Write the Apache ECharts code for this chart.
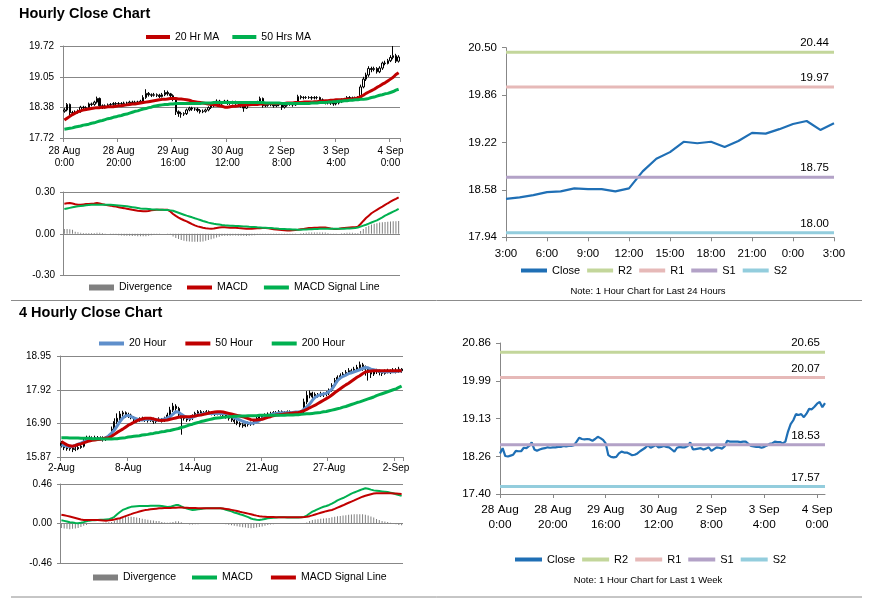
<!DOCTYPE html>
<html><head><meta charset="utf-8">
<script src="https://cdn.jsdelivr.net/npm/echarts@6/dist/echarts.min.js"></script>
<style>html,body{margin:0;padding:0;background:#fff}#c{width:873px;height:601px}</style>
</head><body><div id="c"></div>
<script>
// ---------- Hourly (28 Aug 0:00 .. 4 Sep 3:00) ----------
const labelsH = ['28 Aug\n0:00','28 Aug\n20:00','29 Aug\n16:00','30 Aug\n12:00','2 Sep\n8:00','3 Sep\n4:00','4 Sep\n0:00'];
const closeH = [18.33,18.45,18.27,18.26,18.28,18.30,18.39,18.38,18.38,18.46,
 18.45,18.50,18.58,18.42,18.39,18.42,18.44,18.45,18.47,18.46,
 18.47,18.47,18.48,18.48,18.50,18.49,18.50,18.50,18.52,18.60,
 18.69,18.66,18.65,18.66,18.65,18.62,18.66,18.71,18.68,18.64,
 18.56,18.29,18.25,18.24,18.25,18.33,18.37,18.35,18.35,18.32,
 18.29,18.30,18.33,18.38,18.42,18.46,18.52,18.46,18.49,18.52,
 18.47,18.48,18.50,18.48,18.47,18.42,18.37,18.46,18.48,18.47,
 18.47,18.50,18.58,18.42,18.43,18.44,18.45,18.42,18.44,18.47,
 18.39,18.43,18.47,18.46,18.44,18.49,18.62,18.60,18.60,18.60,
 18.60,18.59,18.60,18.60,18.55,18.50,18.49,18.48,18.48,18.46,
 18.48,18.51,18.55,18.56,18.60,18.59,18.59,18.56,18.60,18.83,
 19.00,19.09,19.23,19.21,19.23,19.16,19.24,19.35,19.34,19.40,
 19.47,19.51,19.39,19.48];
const openH = [18.30,18.33,18.45,18.27,18.26,18.28,18.30,18.39,18.38,18.38,
 18.46,18.45,18.50,18.58,18.42,18.39,18.42,18.44,18.45,18.47,
 18.46,18.47,18.47,18.48,18.48,18.50,18.49,18.50,18.50,18.52,
 18.60,18.69,18.66,18.65,18.66,18.65,18.62,18.66,18.71,18.68,
 18.64,18.56,18.29,18.25,18.24,18.25,18.33,18.37,18.35,18.35,
 18.32,18.29,18.30,18.33,18.38,18.42,18.46,18.52,18.46,18.49,
 18.52,18.47,18.48,18.50,18.48,18.47,18.42,18.37,18.46,18.48,
 18.47,18.47,18.50,18.58,18.42,18.43,18.44,18.45,18.42,18.44,
 18.47,18.39,18.43,18.47,18.46,18.44,18.49,18.62,18.60,18.60,
 18.60,18.60,18.59,18.60,18.60,18.55,18.50,18.49,18.48,18.48,
 18.46,18.48,18.51,18.55,18.56,18.60,18.59,18.59,18.56,18.60,
 18.83,19.00,19.09,19.23,19.21,19.23,19.16,19.24,19.35,19.34,
 19.40,19.47,19.51,19.39];
const highH = [18.37,18.48,18.47,18.31,18.32,18.34,18.42,18.42,18.41,18.49,
 18.49,18.53,18.62,18.60,18.45,18.45,18.47,18.48,18.50,18.50,
 18.50,18.50,18.51,18.51,18.53,18.53,18.53,18.53,18.55,18.65,
 18.78,18.72,18.69,18.70,18.69,18.68,18.70,18.76,18.75,18.70,
 18.67,18.58,18.32,18.29,18.28,18.36,18.40,18.40,18.38,18.38,
 18.35,18.34,18.36,18.41,18.45,18.50,18.56,18.55,18.52,18.55,
 18.55,18.51,18.53,18.53,18.51,18.50,18.45,18.49,18.51,18.51,
 18.50,18.53,18.62,18.60,18.46,18.47,18.48,18.48,18.47,18.50,
 18.50,18.46,18.50,18.50,18.49,18.52,18.66,18.65,18.63,18.63,
 18.63,18.63,18.63,18.63,18.62,18.58,18.53,18.52,18.51,18.51,
 18.52,18.54,18.58,18.59,18.63,18.63,18.62,18.62,18.63,18.88,
 19.05,19.14,19.28,19.27,19.27,19.26,19.28,19.38,19.40,19.44,
 19.52,19.72,19.55,19.52];
const lowH = [18.27,18.30,18.22,18.22,18.23,18.25,18.27,18.35,18.34,18.35,
 18.41,18.42,18.47,18.40,18.35,18.36,18.39,18.41,18.42,18.43,
 18.43,18.44,18.45,18.45,18.45,18.46,18.46,18.47,18.47,18.49,
 18.57,18.62,18.61,18.62,18.61,18.59,18.60,18.63,18.64,18.60,
 18.52,18.22,18.18,18.16,18.20,18.22,18.30,18.31,18.31,18.28,
 18.25,18.26,18.27,18.30,18.35,18.39,18.43,18.42,18.44,18.46,
 18.44,18.44,18.45,18.44,18.43,18.38,18.29,18.35,18.43,18.43,
 18.43,18.44,18.47,18.38,18.39,18.40,18.41,18.38,18.39,18.41,
 18.33,18.36,18.40,18.42,18.40,18.42,18.46,18.56,18.56,18.57,
 18.57,18.55,18.56,18.56,18.52,18.47,18.45,18.45,18.44,18.42,
 18.43,18.45,18.48,18.52,18.54,18.55,18.56,18.53,18.53,18.56,
 18.80,18.96,19.05,19.15,19.17,19.12,19.13,19.20,19.30,19.32,
 19.37,19.43,19.35,19.36];
const ma20H = [18.11,18.15,18.19,18.23,18.26,18.29,18.31,18.33,18.34,18.35,
 18.36,18.37,18.38,18.38,18.39,18.39,18.40,18.40,18.40,18.41,
 18.42,18.42,18.43,18.44,18.45,18.46,18.46,18.47,18.48,18.49,
 18.50,18.51,18.52,18.53,18.54,18.55,18.56,18.56,18.57,18.58,
 18.58,18.58,18.57,18.57,18.56,18.55,18.54,18.52,18.51,18.50,
 18.49,18.48,18.47,18.46,18.45,18.44,18.43,18.42,18.41,18.39,
 18.39,18.40,18.41,18.41,18.42,18.43,18.43,18.44,18.44,18.45,
 18.45,18.45,18.46,18.46,18.46,18.47,18.47,18.47,18.47,18.47,
 18.47,18.47,18.48,18.48,18.48,18.49,18.49,18.49,18.50,18.50,
 18.50,18.50,18.51,18.51,18.52,18.52,18.53,18.53,18.54,18.54,
 18.55,18.55,18.55,18.56,18.56,18.56,18.57,18.58,18.59,18.62,
 18.65,18.69,18.72,18.75,18.78,18.82,18.85,18.89,18.92,18.96,
 19.00,19.04,19.10,19.14];
const ma50H = [17.91,17.92,17.93,17.94,17.96,17.97,17.98,18.00,18.01,18.02,
 18.04,18.05,18.07,18.09,18.10,18.12,18.14,18.15,18.17,18.18,
 18.20,18.21,18.23,18.24,18.26,18.28,18.30,18.31,18.33,18.35,
 18.36,18.38,18.39,18.41,18.42,18.43,18.44,18.45,18.45,18.46,
 18.46,18.47,18.47,18.47,18.47,18.47,18.47,18.47,18.47,18.47,
 18.47,18.48,18.48,18.48,18.48,18.49,18.49,18.49,18.49,18.49,
 18.49,18.49,18.49,18.49,18.49,18.49,18.49,18.49,18.49,18.49,
 18.49,18.49,18.49,18.49,18.48,18.48,18.48,18.48,18.48,18.48,
 18.47,18.47,18.47,18.47,18.47,18.47,18.47,18.47,18.47,18.47,
 18.47,18.48,18.48,18.48,18.49,18.49,18.49,18.50,18.50,18.51,
 18.51,18.52,18.52,18.53,18.53,18.54,18.54,18.55,18.55,18.56,
 18.56,18.57,18.58,18.60,18.61,18.63,18.65,18.66,18.68,18.69,
 18.71,18.73,18.76,18.78];
const macdH = [.216,.219,.221,.217,.212,.209,.209,.211,.213,.214,
 .216,.218,.221,.218,.213,.208,.204,.202,.198,.195,
 .191,.187,.184,.180,.176,.172,.169,.166,.164,.162,
 .161,.164,.168,.171,.173,.173,.173,.173,.172,.160,
 .142,.128,.116,.106,.097,.089,.079,.069,.060,.053,
 .048,.043,.039,.037,.036,.038,.042,.045,.046,.046,
 .045,.044,.045,.043,.041,.040,.038,.036,.036,.036,
 .037,.039,.040,.041,.041,.039,.036,.033,.030,.029,
 .027,.025,.024,.024,.025,.027,.029,.032,.035,.038,
 .041,.042,.043,.044,.045,.045,.045,.042,.038,.035,
 .034,.036,.039,.042,.044,.045,.046,.047,.050,.070,
 .092,.113,.130,.147,.160,.172,.184,.195,.207,.219,
 .230,.241,.251,.262];
const signalH = [.178,.182,.186,.190,.194,.197,.200,.202,.204,.206,
 .208,.209,.209,.209,.209,.209,.209,.209,.207,.205,
 .203,.201,.199,.197,.194,.191,.188,.185,.182,.180,
 .179,.178,.176,.175,.174,.173,.172,.171,.170,.168,
 .165,.158,.151,.144,.137,.130,.124,.118,.111,.105,
 .099,.092,.086,.080,.076,.072,.069,.066,.063,.061,
 .060,.058,.057,.056,.055,.054,.053,.052,.050,.049,
 .048,.046,.045,.044,.043,.042,.041,.039,.038,.036,
 .035,.034,.033,.032,.031,.030,.029,.029,.030,.031,
 .032,.033,.034,.035,.036,.036,.036,.036,.036,.036,
 .036,.036,.036,.036,.037,.038,.039,.041,.045,.051,
 .058,.065,.073,.081,.089,.096,.107,.118,.130,.140,
 .149,.159,.168,.178];
const divH = [.035,.035,.033,.028,.015,.010,.008,.006,.005,.005,
 .005,.005,.008,.008,.005,.002,.000,-.004,-.006,-.007,
 -.010,-.012,-.014,-.015,-.015,-.016,-.017,-.018,-.018,-.018,
 -.018,-.015,-.010,-.006,-.003,-.001,.000,.000,-.002,-.005,
 -.020,-.030,-.038,-.045,-.050,-.053,-.055,-.057,-.058,-.058,
 -.057,-.055,-.050,-.045,-.040,-.034,-.027,-.021,-.017,-.015,
 -.015,-.014,-.012,-.013,-.014,-.014,-.015,-.016,-.014,-.013,
 -.011,-.007,-.005,-.003,-.002,-.003,-.005,-.006,-.008,-.007,
 -.008,-.009,-.009,-.008,-.006,-.003,.000,.003,.005,.007,
 .009,.009,.009,.009,.009,.009,.009,.006,.002,-.001,
 -.002,.000,.003,.006,.007,.008,.008,.006,.005,.019,
 .034,.048,.057,.066,.071,.076,.080,.082,.084,.086,
 .088,.089,.090,.091];

// ---------- Last 24 hours ----------
const labels24 = ['3:00','6:00','9:00','12:00','15:00','18:00','21:00','0:00','3:00'];
const close24 = [18.46,18.48,18.51,18.55,18.56,18.60,18.59,18.59,18.56,18.60,18.83,19.00,19.09,
 19.23,19.21,19.23,19.16,19.24,19.35,19.34,19.40,19.47,19.51,19.39,19.48];
const levelNames = ['R2','R1','S1','S2'];
const levels24 = [20.44, 19.97, 18.75, 18.00];
const levelsW = [20.65, 20.07, 18.53, 17.57];

// ---------- 4 hourly ----------
const labels4 = ['2-Aug','8-Aug','14-Aug','21-Aug','27-Aug','2-Sep'];
const close4 = [16.22,16.15,16.12,16.14,16.10,16.12,16.16,16.20,16.38,16.45,
 16.42,16.44,16.46,16.43,16.45,16.40,16.44,16.50,16.72,16.95,
 17.05,17.18,17.22,17.12,17.15,17.08,17.00,16.98,17.02,17.05,
 17.00,16.98,17.03,16.95,17.00,17.02,16.98,17.05,17.15,17.30,
 17.42,17.35,17.15,17.05,17.08,17.00,17.05,17.12,17.20,17.25,
 17.20,17.22,17.25,17.22,17.20,17.18,17.22,17.20,17.15,17.10,
 17.05,17.00,16.95,16.90,16.85,16.82,16.86,16.90,16.88,16.95,
 17.05,17.10,17.12,17.15,17.18,17.20,17.22,17.20,17.25,17.22,
 17.20,17.25,17.22,17.18,17.20,17.22,17.25,17.55,17.75,17.82,
 17.70,17.78,17.75,17.80,17.78,17.82,17.90,18.05,18.20,18.30,
 18.35,18.40,18.45,18.50,18.48,18.55,18.60,18.68,18.62,18.55,
 18.45,18.40,18.48,18.50,18.45,18.42,18.48,18.50,18.47,18.52,
 18.50,18.55,18.50];
const open4 = [16.30,16.22,16.15,16.12,16.14,16.10,16.12,16.16,16.20,16.38,
 16.45,16.42,16.44,16.46,16.43,16.45,16.40,16.44,16.50,16.72,
 16.95,17.05,17.18,17.22,17.12,17.15,17.08,17.00,16.98,17.02,
 17.05,17.00,16.98,17.03,16.95,17.00,17.02,16.98,17.05,17.15,
 17.30,17.42,17.35,17.15,17.05,17.08,17.00,17.05,17.12,17.20,
 17.25,17.20,17.22,17.25,17.22,17.20,17.18,17.22,17.20,17.15,
 17.10,17.05,17.00,16.95,16.90,16.85,16.82,16.86,16.90,16.88,
 16.95,17.05,17.10,17.12,17.15,17.18,17.20,17.22,17.20,17.25,
 17.22,17.20,17.25,17.22,17.18,17.20,17.22,17.25,17.55,17.75,
 17.82,17.70,17.78,17.75,17.80,17.78,17.82,17.90,18.05,18.20,
 18.30,18.35,18.40,18.45,18.50,18.48,18.55,18.60,18.68,18.62,
 18.55,18.45,18.40,18.48,18.50,18.45,18.42,18.48,18.50,18.47,
 18.52,18.50,18.55];
const high4 = [16.36,16.28,16.20,16.20,16.19,16.18,16.22,16.26,16.44,16.52,
 16.52,16.50,16.52,16.51,16.50,16.50,16.49,16.56,16.80,17.05,
 17.20,17.27,17.28,17.26,17.22,17.19,17.12,17.06,17.08,17.10,
 17.09,17.05,17.08,17.07,17.04,17.08,17.06,17.10,17.22,17.40,
 17.52,17.48,17.40,17.20,17.13,17.12,17.10,17.17,17.25,17.30,
 17.30,17.27,17.30,17.29,17.26,17.24,17.27,17.26,17.23,17.18,
 17.14,17.09,17.05,17.00,16.95,16.90,16.90,16.95,16.95,17.00,
 17.10,17.15,17.17,17.20,17.23,17.25,17.27,17.27,17.30,17.29,
 17.27,17.29,17.29,17.27,17.24,17.27,17.30,17.65,17.88,17.90,
 17.86,17.84,17.82,17.86,17.84,17.88,17.96,18.12,18.28,18.36,
 18.42,18.46,18.52,18.58,18.56,18.62,18.68,18.78,18.74,18.66,
 18.60,18.50,18.54,18.56,18.54,18.50,18.54,18.56,18.54,18.58,
 18.58,18.62,18.58];
const low4 = [16.16,16.08,16.06,16.06,16.02,16.05,16.08,16.12,16.16,16.32,
 16.36,16.38,16.40,16.37,16.38,16.34,16.36,16.40,16.46,16.66,
 16.88,16.98,17.10,17.06,17.06,17.02,16.94,16.92,16.94,16.98,
 16.94,16.92,16.94,16.88,16.90,16.95,16.92,16.94,17.00,17.10,
 17.24,17.28,17.08,16.55,16.98,16.94,16.96,17.00,17.06,17.14,
 17.12,17.14,17.16,17.16,17.14,17.12,17.14,17.13,17.08,17.04,
 16.98,16.94,16.88,16.84,16.78,16.76,16.78,16.80,16.82,16.84,
 16.90,17.00,17.04,17.06,17.09,17.12,17.15,17.14,17.15,17.16,
 17.13,17.15,17.16,17.12,17.13,17.15,17.16,17.20,17.48,17.66,
 17.62,17.64,17.68,17.70,17.70,17.72,17.76,17.86,18.00,18.14,
 18.24,18.30,18.34,18.40,18.40,18.44,18.50,18.55,18.50,18.35,
 18.20,18.28,18.34,18.40,18.36,18.34,18.38,18.42,18.40,18.44,
 18.42,18.44,18.44];
const ma20_4 = [16.24,16.22,16.20,16.18,16.19,16.22,16.26,16.29,16.33,16.37,
 16.40,16.41,16.41,16.41,16.41,16.43,16.46,16.52,16.60,16.69,
 16.82,16.95,17.06,17.12,17.14,17.10,17.06,17.03,17.00,17.00,
 17.01,17.02,17.02,17.01,17.00,17.00,17.01,17.03,17.06,17.10,
 17.18,17.25,17.24,17.17,17.12,17.08,17.05,17.08,17.12,17.15,
 17.17,17.19,17.20,17.20,17.20,17.20,17.20,17.20,17.20,17.20,
 17.17,17.12,17.07,17.03,17.00,16.96,16.93,16.91,16.90,16.91,
 16.93,16.98,17.04,17.08,17.12,17.15,17.18,17.20,17.21,17.21,
 17.22,17.22,17.22,17.23,17.24,17.24,17.25,17.33,17.40,17.48,
 17.60,17.69,17.74,17.77,17.79,17.81,17.87,17.94,18.07,18.20,
 18.28,18.33,18.37,18.41,18.44,18.47,18.50,18.53,18.57,18.60,
 18.59,18.55,18.53,18.51,18.49,18.47,18.47,18.47,18.47,18.47,
 18.48,18.49,18.49];
const ma50_4 = [16.34,16.29,16.24,16.21,16.20,16.22,16.25,16.27,16.30,16.33,
 16.36,16.38,16.39,16.40,16.41,16.43,16.45,16.46,16.50,16.56,
 16.62,16.67,16.72,16.78,16.84,16.88,16.93,16.97,17.01,17.03,
 17.05,17.05,17.05,17.03,17.01,16.99,16.98,16.99,17.00,17.02,
 17.04,17.06,17.08,17.10,17.10,17.10,17.10,17.11,17.12,17.14,
 17.15,17.17,17.19,17.21,17.23,17.24,17.25,17.25,17.24,17.22,
 17.20,17.18,17.16,17.14,17.12,17.10,17.07,17.04,17.01,17.00,
 17.00,17.01,17.02,17.05,17.08,17.10,17.13,17.15,17.16,17.17,
 17.18,17.19,17.20,17.21,17.22,17.23,17.25,17.28,17.32,17.37,
 17.41,17.45,17.50,17.55,17.60,17.65,17.70,17.76,17.83,17.89,
 17.95,18.01,18.07,18.12,18.18,18.24,18.30,18.35,18.41,18.46,
 18.48,18.49,18.50,18.50,18.50,18.50,18.50,18.50,18.50,18.50,
 18.50,18.50,18.50];
const ma200_4 = [16.46,16.46,16.46,16.45,16.45,16.45,16.45,16.44,16.44,16.44,
 16.44,16.43,16.43,16.43,16.43,16.42,16.42,16.42,16.42,16.43,
 16.43,16.44,16.45,16.46,16.48,16.49,16.50,16.51,16.52,16.54,
 16.55,16.56,16.58,16.59,16.61,16.62,16.64,16.65,16.67,16.68,
 16.70,16.72,16.74,16.77,16.79,16.82,16.85,16.87,16.90,16.92,
 16.95,16.97,16.99,17.01,17.03,17.05,17.06,17.07,17.08,17.09,
 17.10,17.10,17.11,17.11,17.12,17.12,17.12,17.13,17.13,17.13,
 17.13,17.14,17.14,17.14,17.14,17.14,17.14,17.14,17.14,17.14,
 17.14,17.15,17.15,17.15,17.16,17.16,17.17,17.18,17.19,17.19,
 17.20,17.21,17.22,17.23,17.25,17.26,17.28,17.30,17.32,17.34,
 17.36,17.39,17.41,17.44,17.47,17.50,17.53,17.55,17.58,17.61,
 17.64,17.67,17.70,17.74,17.77,17.80,17.83,17.86,17.89,17.92,
 17.95,17.99,18.03];
const macd4 = [.040,.032,.024,.016,.012,.008,.005,.010,.018,.027,
 .035,.038,.040,.042,.044,.046,.048,.050,.062,.080,
 .108,.135,.159,.172,.185,.195,.199,.202,.204,.205,
 .205,.206,.207,.208,.209,.209,.205,.200,.193,.195,
 .205,.215,.215,.200,.186,.176,.166,.159,.162,.166,
 .171,.176,.179,.179,.179,.179,.179,.179,.172,.162,
 .152,.142,.130,.120,.109,.100,.088,.075,.060,.050,
 .045,.043,.048,.055,.062,.066,.069,.071,.073,.074,
 .073,.072,.071,.070,.070,.070,.073,.078,.094,.118,
 .139,.153,.168,.183,.196,.205,.217,.232,.250,.270,
 .285,.297,.313,.330,.348,.362,.375,.388,.400,.410,
 .405,.395,.386,.382,.378,.374,.370,.366,.360,.352,
 .342,.332,.322];
const signal4 = [.103,.097,.090,.083,.075,.066,.057,.048,.043,.042,
 .042,.043,.043,.041,.039,.037,.035,.038,.043,.049,
 .056,.063,.075,.087,.099,.110,.122,.131,.140,.149,
 .157,.161,.166,.170,.174,.178,.180,.181,.182,.183,
 .184,.185,.186,.186,.185,.184,.183,.182,.181,.180,
 .179,.179,.179,.179,.179,.179,.179,.179,.176,.171,
 .166,.160,.154,.146,.138,.131,.124,.116,.108,.100,
 .093,.087,.082,.080,.078,.077,.076,.075,.074,.074,
 .074,.074,.074,.074,.074,.074,.074,.076,.080,.087,
 .096,.106,.116,.126,.136,.145,.152,.159,.171,.185,
 .199,.213,.228,.242,.256,.270,.285,.299,.313,.323,
 .333,.342,.349,.353,.353,.353,.353,.353,.353,.351,
 .349,.347,.345];
const div4 = [-.050,-.055,-.060,-.065,-.060,-.055,-.050,-.040,-.025,-.015,
 -.005,.000,.000,.005,.008,.010,.012,.015,.020,.030,
 .045,.060,.070,.078,.080,.080,.078,.072,.066,.058,
 .050,.045,.040,.036,.032,.030,.020,.012,.010,.012,
 .020,.028,.028,.015,.005,-.005,-.010,-.010,-.008,-.006,
 -.004,-.002,-.001,.000,.000,.000,.000,-.002,-.004,-.008,
 -.012,-.018,-.025,-.030,-.036,-.042,-.046,-.050,-.052,-.050,
 -.045,-.040,-.033,-.025,-.016,-.011,-.007,-.004,-.002,.000,
 -.001,-.002,-.003,-.004,-.004,-.004,-.001,.002,.014,.031,
 .043,.047,.052,.057,.060,.062,.066,.074,.080,.086,
 .090,.094,.098,.102,.106,.108,.110,.110,.108,.104,
 .096,.084,.070,.055,.042,.032,.025,.018,.010,.003,
 -.007,-.015,-.020];

// ---------- axis ticks ----------
const yTicksH = [17.72, 18.38, 19.05, 19.72];
const yTicks24 = [17.94, 18.58, 19.22, 19.86, 20.50];
const yTicks4 = [15.87, 16.90, 17.92, 18.95];
const yTicksW = [17.40, 18.26, 19.13, 19.99, 20.86];
const STEP_H = 20, STEP_24 = 3, STEP_4 = 24;

// ---------- styling ----------
const FONT = 'Liberation Sans, Arial, sans-serif';
const GC = '#878787';
const C = {red:'#c00000', green:'#00b050', blue4:'#5f8fcb', close:'#1f6fb5', div:'#808080',
  R2:'#c3d69b', R1:'#e6b9b8', S1:'#b3a2c7', S2:'#93cddd'};
const levelColors = [C.R2, C.R1, C.S1, C.S2];
const showName = {Divergence4:'Divergence', MACD4:'MACD', Signal4:'MACD Signal Line'};

const catH = closeH.map((_, i) => i);
const cat24 = close24.map((_, i) => i);
const cat4 = close4.map((_, i) => i);
const fmt2 = v => v.toFixed(2);

function xCat(gi, data, gap, step, labels, fs, lh, margin) {
  const show = !!labels;
  return {
    type: 'category', gridIndex: gi, data: data, boundaryGap: gap,
    axisLine: {show: show, lineStyle: {color: GC, width: 1}},
    axisTick: {show: show, length: 4, interval: (i) => i % step === 0, lineStyle: {color: GC}},
    axisLabel: {show: show, interval: (i) => i % step === 0,
      formatter: (v, i) => labels ? (labels[i / step] || '') : '',
      fontSize: fs, lineHeight: lh, margin: margin, color: '#000', fontFamily: FONT},
    splitLine: {show: false}
  };
}
function yVal(gi, ticks, fs, margin, grid) {
  return {
    type: 'value', gridIndex: gi, min: ticks[0], max: ticks[ticks.length - 1],
    axisLine: {show: true, lineStyle: {color: GC, width: 1}},
    axisTick: {show: true, length: grid ? 3 : 4, customValues: ticks, lineStyle: {color: GC}},
    axisLabel: {customValues: ticks, formatter: fmt2, fontSize: fs, margin: margin, color: '#000', fontFamily: FONT},
    splitLine: {show: grid, lineStyle: {color: GC, width: 1}}
  };
}
function yMacd(gi, lim) {
  return {
    type: 'value', gridIndex: gi, min: -lim, max: lim, interval: lim,
    axisLine: {show: true, lineStyle: {color: GC, width: 1}},
    axisTick: {show: true, length: 3, lineStyle: {color: GC}},
    axisLabel: {formatter: fmt2, fontSize: 10, margin: 8, color: '#000', fontFamily: FONT},
    splitLine: {show: true, lineStyle: {color: GC, width: 1}}
  };
}
function line(name, xi, data, color, width, z) {
  return {type: 'line', name: name, xAxisIndex: xi, yAxisIndex: xi, data: data, color: color,
    showSymbol: false, symbol: 'none', lineStyle: {color: color, width: width}, z: z || 3,
    emphasis: {disabled: true}, animation: false};
}
function levelSeries(k, xi, cats, levels) {
  const v = levels[k];
  const s = line(levelNames[k], xi, cats.map(() => v), levelColors[k], 3, 4);
  s.markLine = {silent: true, symbol: ['none', 'none'], animation: false,
    lineStyle: {color: 'transparent', width: 0},
    label: {show: true, position: 'insideEndTop', formatter: () => v.toFixed(2), color: '#000',
      fontSize: 11.5, fontFamily: FONT, distance: [5, 3]},
    emphasis: {disabled: true},
    data: [{yAxis: v}]};
  return s;
}
function legend(names, left, top, w, h, gap, fs) {
  return {data: names, left: left, top: top, itemWidth: w, itemHeight: h, itemGap: gap, icon: 'rect',
    padding: 0, selectedMode: false, formatter: n => showName[n] || n,
    textStyle: {fontSize: fs, color: '#000', fontFamily: FONT}};
}

const series = [];
// Panel 0: hourly price
series.push({type: 'candlestick', name: 'Hourly OHLC', xAxisIndex: 0, yAxisIndex: 0, barWidth: 2,
  data: catH.map(i => [openH[i], closeH[i], lowH[i], highH[i]]),
  itemStyle: {color: '#ffffff', color0: '#000000', borderColor: '#000000', borderColor0: '#000000', borderWidth: 1},
  emphasis: {disabled: true}, animation: false, z: 2});
series.push(line('20 Hr MA', 0, ma20H, C.red, 3));
series.push(line('50 Hrs MA', 0, ma50H, C.green, 3));
// Panel 1: hourly MACD
series.push({type: 'bar', name: 'Divergence', xAxisIndex: 1, yAxisIndex: 1, data: divH, barWidth: 1,
  itemStyle: {color: C.div}, color: C.div, emphasis: {disabled: true}, animation: false});
series.push(line('MACD', 1, macdH, C.red, 2));
series.push(line('MACD Signal Line', 1, signalH, C.green, 2));
// Panel 2: last 24 hours
series.push(line('Close', 2, close24, C.close, 2.2));
for (let k = 0; k < 4; k++) series.push(levelSeries(k, 2, cat24, levels24));
// Panel 3: 4 hourly price
series.push({type: 'candlestick', name: '4H OHLC', xAxisIndex: 3, yAxisIndex: 3, barWidth: 1.5,
  data: cat4.map(i => [open4[i], close4[i], low4[i], high4[i]]),
  itemStyle: {color: '#000000', color0: '#000000', borderColor: '#000000', borderColor0: '#000000', borderWidth: 1},
  emphasis: {disabled: true}, animation: false, z: 2});
series.push(line('20 Hour', 3, ma20_4, C.blue4, 3));
series.push(line('50 Hour', 3, ma50_4, C.red, 3));
series.push(line('200 Hour', 3, ma200_4, C.green, 3));
// Panel 4: 4 hourly MACD
series.push({type: 'bar', name: 'Divergence4', xAxisIndex: 4, yAxisIndex: 4, data: div4, barWidth: 1,
  itemStyle: {color: C.div}, color: C.div, emphasis: {disabled: true}, animation: false});
series.push(line('MACD4', 4, macd4, C.green, 2));
series.push(line('Signal4', 4, signal4, C.red, 2));
// Panel 5: last week hourly
series.push(line('Close', 5, closeH, C.close, 2.2));
for (let k = 0; k < 4; k++) series.push(levelSeries(k, 5, catH, levelsW));

const option = {
  animation: false,
  backgroundColor: '#ffffff',
  textStyle: {fontFamily: FONT, color: '#000'},
  title: [
    {text: 'Hourly Close Chart', left: 19, top: 6, padding: 0,
      textStyle: {fontSize: 14.5, fontWeight: 'bold', color: '#000', fontFamily: FONT}},
    {text: '4 Hourly Close Chart', left: 19, top: 305.5, padding: 0,
      textStyle: {fontSize: 14.5, fontWeight: 'bold', color: '#000', fontFamily: FONT}}
  ],
  grid: [
    {left: 63, top: 46, width: 337, height: 92, outerBoundsMode: 'none'},
    {left: 63, top: 192, width: 337, height: 83.5, outerBoundsMode: 'none'},
    {left: 506, top: 47.7, width: 328, height: 189.6, outerBoundsMode: 'none'},
    {left: 60, top: 356, width: 343, height: 101, outerBoundsMode: 'none'},
    {left: 60, top: 484, width: 343, height: 79.3, outerBoundsMode: 'none'},
    {left: 500, top: 343, width: 325, height: 151, outerBoundsMode: 'none'}
  ],
  xAxis: [
    xCat(0, catH, true, STEP_H, labelsH, 10, 12, 7),
    xCat(1, catH, true, STEP_H, null, 10, 12, 7),
    xCat(2, cat24, false, STEP_24, labels24, 11.5, 14, 10),
    xCat(3, cat4, true, STEP_4, labels4, 10, 12, 5),
    xCat(4, cat4, true, STEP_4, null, 10, 12, 5),
    xCat(5, catH, false, STEP_H, labelsH, 11.8, 14.2, 9)
  ],
  yAxis: [
    yVal(0, yTicksH, 10, 9, true),
    yMacd(1, 0.30),
    yVal(2, yTicks24, 11.5, 9, false),
    yVal(3, yTicks4, 10, 9, true),
    yMacd(4, 0.46),
    yVal(5, yTicksW, 11.5, 9, false)
  ],
  legend: [
    legend(['20 Hr MA', '50 Hrs MA'], 146, 31.5, 24, 4, 13, 10.5),
    legend(['Divergence'], 89, 282, 25, 6, 10, 10.5),
    legend(['MACD', 'MACD Signal Line'], 187, 282, 25, 4, 16, 10.5),
    legend(['Close', 'R2', 'R1', 'S1', 'S2'], 521, 265, 26, 4, 7, 11),
    legend(['20 Hour', '50 Hour', '200 Hour'], 99, 338, 25, 4, 19, 10.5),
    legend(['Divergence4'], 93, 572, 25, 6, 10, 10.5),
    legend(['MACD4', 'Signal4'], 192, 572, 25, 4, 18, 10.5),
    legend(['Close', 'R2', 'R1', 'S1', 'S2'], 515, 554, 27, 4, 7, 11)
  ],
  graphic: [
    {type: 'line', silent: true, shape: {x1: 11, y1: 300.5, x2: 862, y2: 300.5}, style: {stroke: '#8c8c8c', lineWidth: 1}},
    {type: 'line', silent: true, shape: {x1: 11, y1: 597, x2: 862, y2: 597}, style: {stroke: '#8c8c8c', lineWidth: 1}},
    {type: 'text', silent: true, x: 648, y: 291, style: {text: 'Note: 1 Hour Chart for Last 24 Hours',
      fontSize: 9.5, fill: '#000', align: 'center', verticalAlign: 'middle', fontFamily: FONT}},
    {type: 'text', silent: true, x: 648, y: 580, style: {text: 'Note: 1 Hour Chart for Last 1 Week',
      fontSize: 9.5, fill: '#000', align: 'center', verticalAlign: 'middle', fontFamily: FONT}}
  ],
  series: series
};
const chart = echarts.init(document.getElementById('c'));
chart.setOption(option);
</script></body></html>
